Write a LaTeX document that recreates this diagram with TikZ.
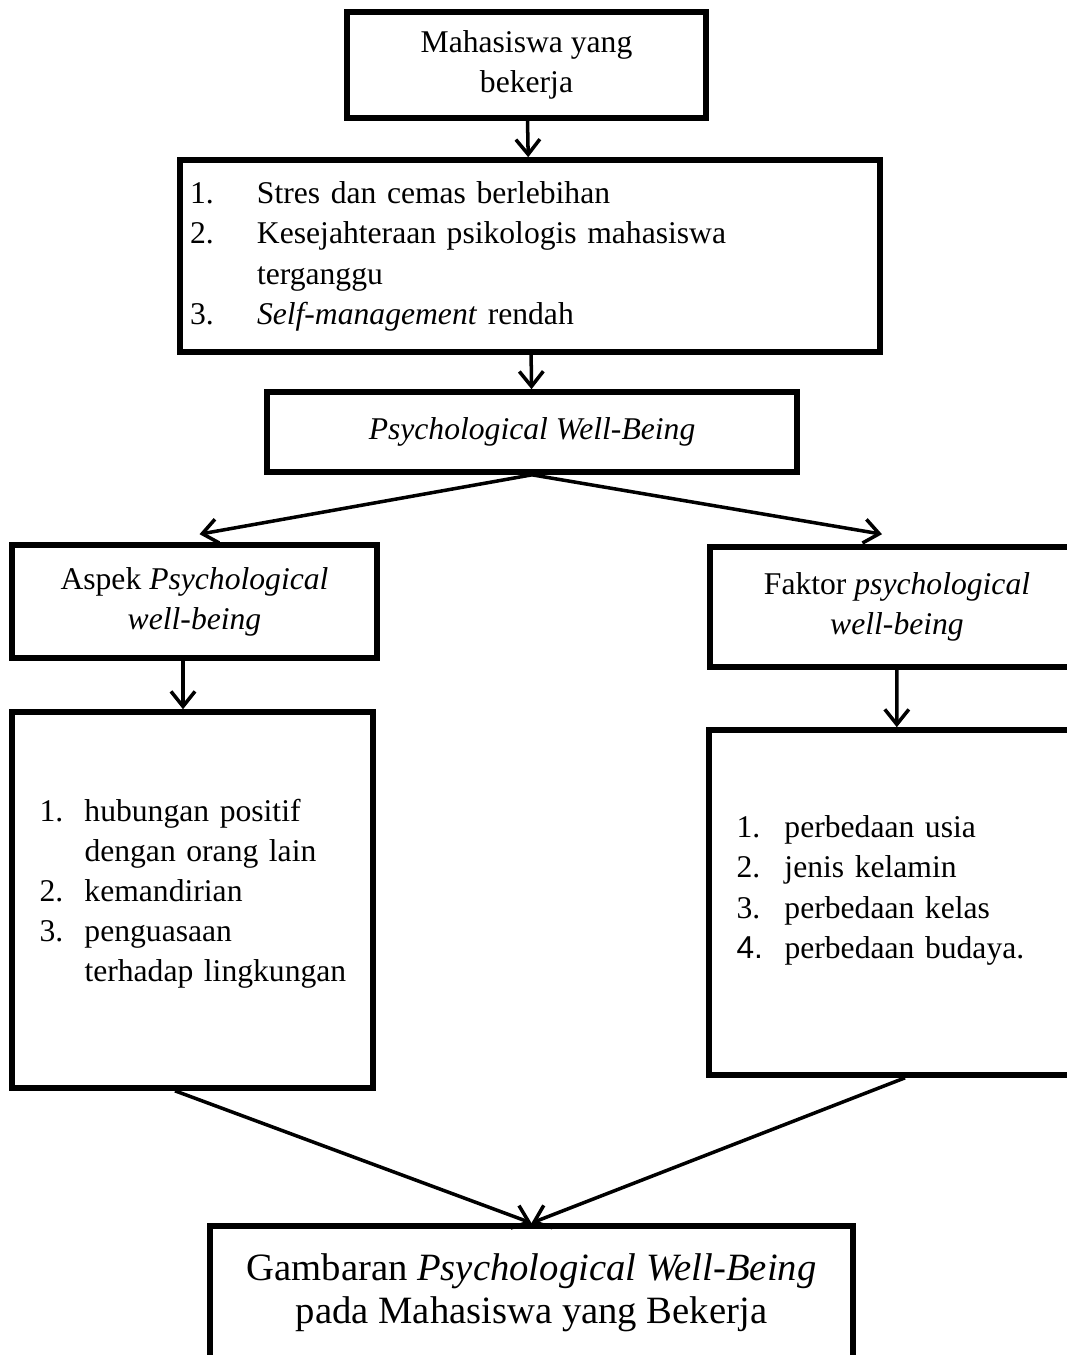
\documentclass[tikz,border=0pt]{standalone}
\usepackage{fontspec}
\setmainfont{Liberation Serif}
\newfontfamily\arialfont{Liberation Sans}
\usetikzlibrary{positioning,arrows.meta,calc}

\begin{document}
\begin{tikzpicture}[
        font=\fontsize{18pt}{22.8pt}\selectfont,
        >={Straight Barb[length=3mm,width=4.8mm]},
        box/.style={
            rectangle,
            draw=black,
            line width=3.2pt,
            align=center,
            inner sep=0pt,
            minimum width=#1
        },
        listbox/.style={
            box=#1,
            align=left,
            text width=#1-1.1cm,
            inner xsep=0.55cm
        },
        flow/.style={->, line width=2pt, draw=black}
    ]

        \path[fill=white, use as bounding box] (0,0) rectangle (21.32,-27.1);

        % Main path
        \node[box=7.18cm, minimum height=2.12cm] (mhs) at (10.53,-1.30)
            {Mahasiswa yang\\bekerja};
        \node[box=14cm, minimum height=3.84cm, align=left, text width=13.6cm,
              inner xsep=0.2cm] (dmp) at (10.60,-5.12)
            {\begin{tabular}{@{}p{1.34cm}@{}l@{}}
             1. & Stres dan cemas berlebihan\\
             2. & Kesejahteraan psikologis mahasiswa\\
                & terganggu\\
             3. & \textit{Self-management} rendah
             \end{tabular}};
        \node[box=10.6cm, minimum height=1.6cm] (pwb) at (10.64,-8.64)
            {\textit{Psychological Well-Being}};

        \draw[flow] (mhs) -- (dmp);
        \draw[flow] (dmp) -- (pwb);

        % Aspek / faktor
        \node[box=7.3cm, minimum height=2.26cm] (asp) at (3.89,-12.03)
            {Aspek \textit{Psychological}\\\textit{well-being}};
        \node[box=7.48cm, minimum height=2.4cm] (fak) at (17.94,-12.14)
            {Faktor \textit{psychological}\\\textit{well-being}};

        \draw[flow] (pwb.south) -- ([shift={(0.1,0.16)}]asp.north);
        \draw[flow] (pwb.south) -- ([shift={(-0.3,0.2)}]fak.north);

        \node[listbox=7.22cm, minimum height=7.52cm] (aspi) at (3.85,-18.0)
            {\begin{tabular}{@{}p{0.9cm}@{}l@{}}
             1. & hubungan positif\\
                & dengan orang lain\\
             2. & kemandirian\\
             3. & penguasaan\\
                & terhadap lingkungan\\[0.26cm]
             \end{tabular}};
        \node[listbox=7.5cm, minimum height=6.9cm, inner xsep=0.5cm] (faki) at (17.93,-18.05)
            {\begin{tabular}{@{}p{0.96cm}@{}l@{}}
             1. & perbedaan usia\\
             2. & jenis kelamin\\
             3. & perbedaan kelas\\
             {\arialfont 4.} & perbedaan budaya.\\[0.5cm]
             \end{tabular}};

        \draw[flow] ([xshift=-0.23cm]asp.south) -- ([xshift=-0.23cm]asp.south |- aspi.north);
        \draw[flow] (fak) -- (faki);

        % Hasil
        \node[box=12.86cm, anchor=north, inner ysep=0.55cm, text depth=0.8cm,
              font=\fontsize{22pt}{24.5pt}\selectfont] (gbr) at (10.63,-24.46)
            {Gambaran \textit{Psychological Well-Being}\\
             pada Mahasiswa yang Bekerja};

        \draw[flow] ([xshift=-0.35cm]aspi.south) -- (gbr.north);
        \draw[flow] ([xshift=0.17cm]faki.south) -- (gbr.north);

    \end{tikzpicture}
\end{document}
